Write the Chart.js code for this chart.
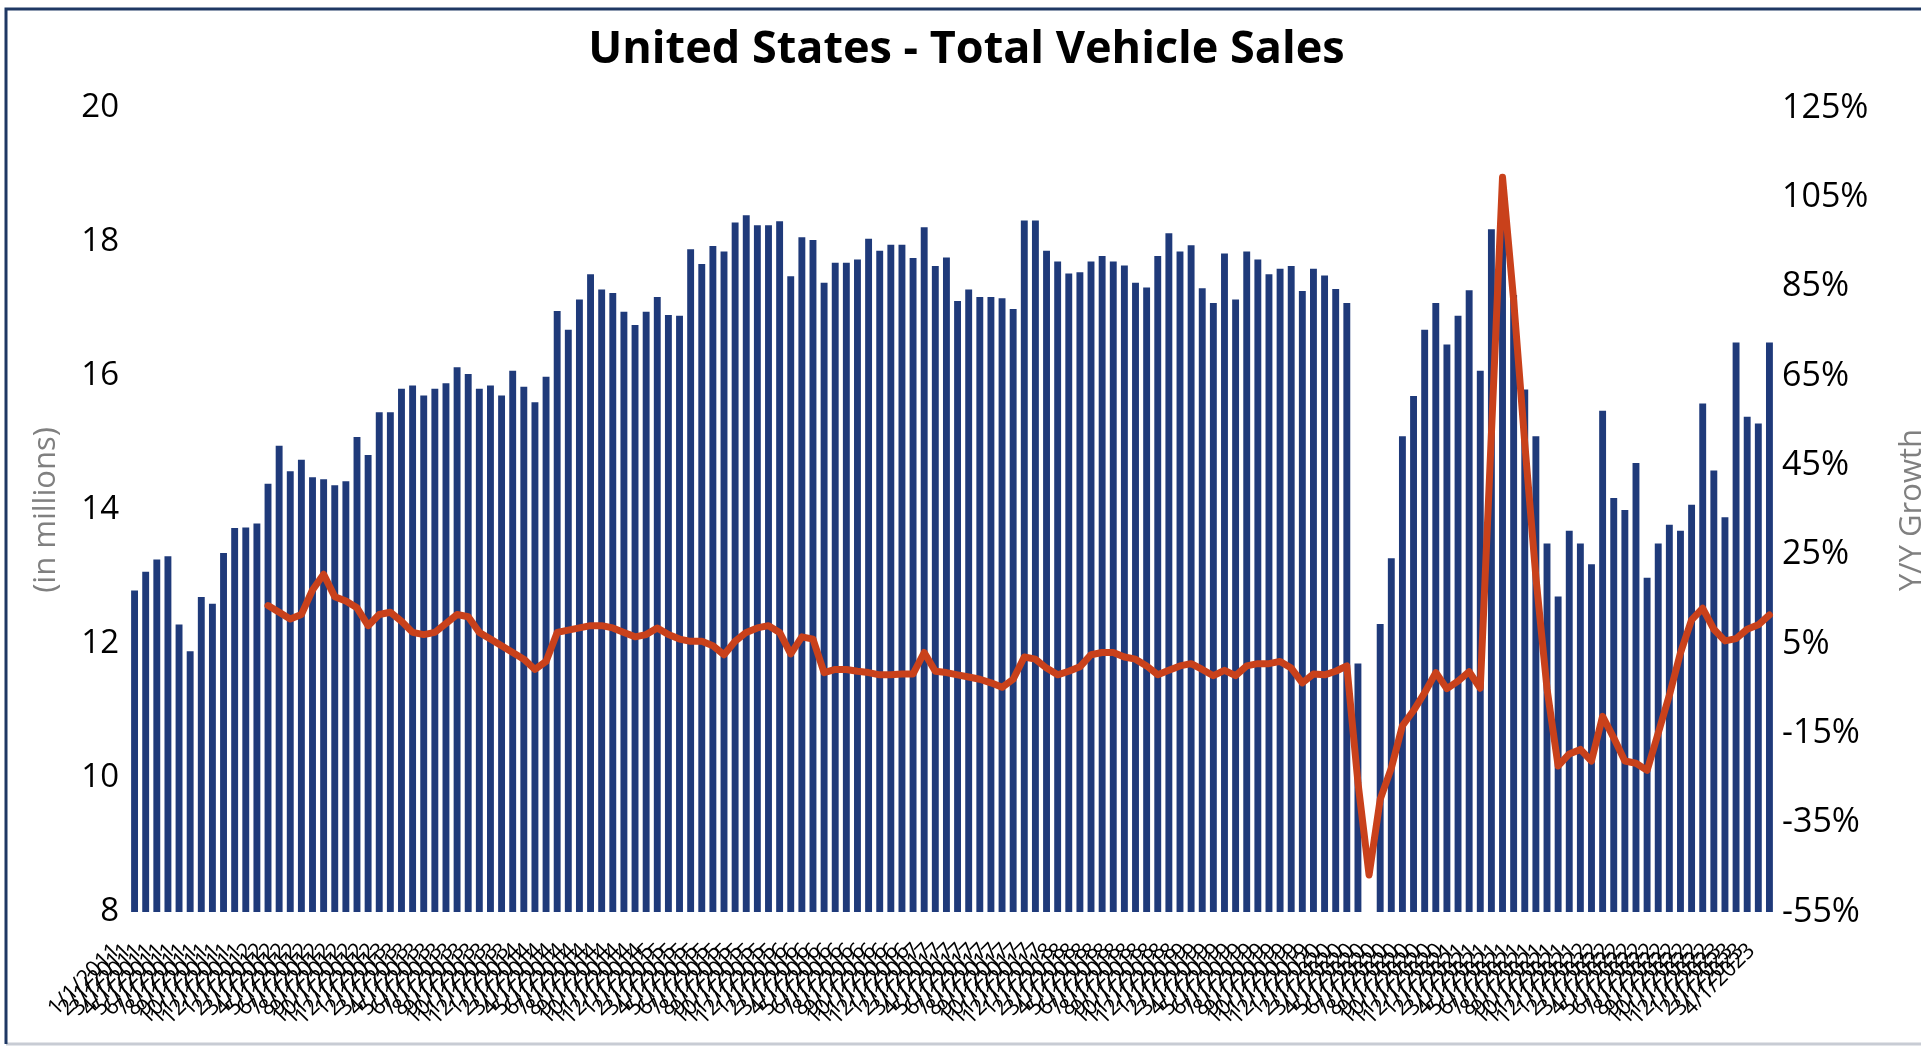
<!DOCTYPE html>
<html>
<head>
<meta charset="utf-8">
<script src="https://cdn.jsdelivr.net/npm/chart.js@4.4.1/dist/chart.umd.min.js"></script>
<style>
html,body{margin:0;padding:0;background:#fff;overflow:hidden}
#wrap{position:relative;width:1921px;height:1048px}
</style>
</head>
<body>
<div id="wrap"><canvas id="c" width="1921" height="1048"></canvas></div>
<script>
// ---- data ----
const chartTitle = 'United States - Total Vehicle Sales';
const leftAxisTitle = '(in millions)';
const rightAxisTitle = 'Y/Y Growth';
const years = ['2011','2012','2013','2014','2015','2016','2017','2018','2019','2020','2021','2022','2023'];
const months = ['1','2','3','4','5','6','7','8','9','10','11','12'];

// Total vehicle sales, millions (SAAR), Jan-2011 .. Apr-2023
const sales2011 = [12.80,13.08,13.26,13.31,12.29,11.89,12.70,12.60,13.36,13.73,13.74,13.80];
const sales2012 = [14.39,14.96,14.58,14.75,14.49,14.46,14.37,14.43,15.09,14.82,15.46,15.46];
const sales2013 = [15.81,15.86,15.71,15.81,15.89,16.13,16.03,15.81,15.86,15.71,16.08,15.84];
const sales2014 = [15.61,15.99,16.97,16.69,17.14,17.52,17.29,17.24,16.96,16.76,16.96,17.18];
const sales2015 = [16.91,16.90,17.89,17.67,17.94,17.86,18.29,18.40,18.25,18.25,18.31,17.49];
const sales2016 = [18.07,18.03,17.39,17.69,17.69,17.74,18.05,17.87,17.96,17.96,17.76,18.22];
const sales2017 = [17.64,17.77,17.12,17.29,17.18,17.18,17.16,17.00,18.32,18.32,17.87,17.71];
const sales2018 = [17.53,17.55,17.71,17.79,17.71,17.65,17.39,17.32,17.79,18.13,17.86,17.95];
const sales2019 = [17.31,17.09,17.83,17.14,17.86,17.74,17.52,17.60,17.64,17.27,17.60,17.50];
const sales2020 = [17.30,17.09,11.71,8.00,12.30,13.28,15.10,15.70,16.69,17.09,16.47,16.90];
const sales2021 = [17.28,16.08,18.19,18.45,17.21,15.80,15.10,13.50,12.71,13.69,13.50,13.19];
const sales2022 = [15.48,14.18,14.00,14.70,12.99,13.50,13.78,13.69,14.08,15.59,14.59,13.89];
const sales2023 = [16.50,15.39,15.29,16.50];

// Year-over-year growth, percent
const yoy2011 = [null,null,null,null,null,null,null,null,null,null,null,null];
const yoy2012 = [13.6,12.1,10.6,11.6,17.1,20.6,15.6,14.6,13.1,9.1,11.6,12.1];
const yoy2013 = [10.1,7.6,7.1,7.6,9.6,11.6,11.1,7.6,6.1,4.6,3.1,1.6];
const yoy2014 = [-0.7,1.1,7.6,8.1,8.6,9.1,9.1,8.6,7.6,6.6,7.1,8.6];
const yoy2015 = [7.1,6.1,5.6,5.6,4.6,2.6,5.6,7.6,8.6,9.1,7.6,2.8];
const yoy2016 = [6.6,6.1,-1.4,-0.7,-0.7,-1.1,-1.4,-1.9,-1.9,-1.7,-1.7,3.1];
const yoy2017 = [-1.1,-1.4,-1.9,-2.4,-2.9,-3.7,-4.7,-2.9,2.1,1.6,-0.4,-1.9];
const yoy2018 = [-1.1,-0.1,2.6,3.1,3.1,2.1,1.6,0.1,-1.9,-0.9,0.1,0.6];
const yoy2019 = [-0.7,-2.1,-0.9,-2.1,0.1,0.6,0.6,1.1,-0.4,-3.7,-1.7,-1.9];
const yoy2020 = [-1.1,0.1,-26.0,-46.7,-29.8,-22.8,-13.3,-9.9,-5.9,-1.4,-5.0,-3.3];
const yoy2021 = [-1.2,-4.9,52.0,109.5,82.0,50.0,20.0,-5.0,-22.3,-19.6,-18.6,-21.2];
const yoy2022 = [-11.2,-16.0,-21.2,-21.7,-23.3,-14.9,-6.5,3.0,10.4,13.0,8.3,5.7];
const yoy2023 = [6.2,8.3,9.3,11.5];

const leftTickValues = [8,10,12,14,16,18,20];
const rightTickValues = [-55,-35,-15,5,25,45,65,85,105,125];

// ---- build ----
const sales = [].concat(sales2011,sales2012,sales2013,sales2014,sales2015,sales2016,sales2017,sales2018,sales2019,sales2020,sales2021,sales2022,sales2023);
const yoy = [].concat(yoy2011,yoy2012,yoy2013,yoy2014,yoy2015,yoy2016,yoy2017,yoy2018,yoy2019,yoy2020,yoy2021,yoy2022,yoy2023);
const labels = [];
for (const y of years) for (const m of months) { if (labels.length < sales.length) labels.push(m + '/1/' + y); }

const FONT = '"Open Sans", "Liberation Sans", sans-serif';

const decor = {
  id: 'decor',
  beforeDraw(chart) {
    const ctx = chart.ctx;
    ctx.save();
    ctx.fillStyle = '#ffffff';
    ctx.fillRect(0, 0, chart.width, chart.height);
    ctx.restore();
  },
  afterDraw(chart) {
    const ctx = chart.ctx;
    ctx.save();
    // frame: navy top/left, light grey bottom
    ctx.lineWidth = 3;
    ctx.strokeStyle = '#c8ccd4';
    ctx.beginPath(); ctx.moveTo(6, chart.height - 4); ctx.lineTo(chart.width, chart.height - 4); ctx.stroke();
    ctx.strokeStyle = '#1f3864';
    ctx.beginPath(); ctx.moveTo(6, chart.height - 4); ctx.lineTo(6, 9); ctx.lineTo(chart.width, 9); ctx.stroke();
    // secondary axis title, reading bottom-to-top
    const s = chart.scales.y1;
    ctx.translate(s.right - 9, (s.top + s.bottom) / 2);
    ctx.rotate(-Math.PI / 2);
    ctx.textAlign = 'center';
    ctx.textBaseline = 'middle';
    ctx.fillStyle = '#808080';
    ctx.font = '31px ' + FONT;
    ctx.fillText(rightAxisTitle, 0, 0);
    ctx.restore();
  }
};

new Chart(document.getElementById('c'), {
  data: {
    labels: labels,
    datasets: [
      {
        type: 'line', label: 'Y/Y Growth', data: yoy, yAxisID: 'y1', order: 0,
        borderColor: '#c9411b', borderWidth: 7, pointRadius: 0, tension: 0, spanGaps: false,
        borderJoinStyle: 'round', borderCapStyle: 'round'
      },
      {
        type: 'bar', label: 'Total Vehicle Sales', data: sales, yAxisID: 'y', order: 1,
        backgroundColor: '#1f3a7a', barPercentage: 0.62, categoryPercentage: 1.0
      }
    ]
  },
  options: {
    responsive: false, animation: false, devicePixelRatio: 1,
    layout: { padding: { top: 0, left: 12, right: 0, bottom: 0 } },
    plugins: {
      legend: { display: false }, tooltip: { enabled: false },
      title: {
        display: true, text: chartTitle, color: '#000',
        font: { family: FONT, size: 45, weight: 'bold' },
        padding: { top: 23, bottom: 31 }
      }
    },
    scales: {
      x: {
        type: 'category', offset: true,
        grid: { display: false, drawTicks: false }, border: { display: false },
        ticks: { autoSkip: false, maxRotation: 45, minRotation: 45, color: '#000',
                 font: { family: FONT, size: 22 }, padding: 26, labelOffset: -18 },
        afterFit(s) { s.height = 136; }
      },
      y: {
        position: 'left', min: 8, max: 20,
        grid: { display: false, drawTicks: false }, border: { display: false },
        afterBuildTicks(s) { s.ticks = leftTickValues.map(v => ({ value: v })); },
        ticks: { color: '#000', font: { family: FONT, size: 33 }, padding: 10 },
        title: { display: true, text: leftAxisTitle, color: '#808080',
                 font: { family: FONT, size: 31 }, padding: { top: 16, bottom: 0 } },
        afterFit(s) { s.width = 117; }
      },
      y1: {
        position: 'right', min: -55, max: 125,
        grid: { display: false, drawTicks: false }, border: { display: false },
        afterBuildTicks(s) { s.ticks = rightTickValues.map(v => ({ value: v })); },
        ticks: { color: '#000', font: { family: FONT, size: 34 }, padding: 7,
                 callback: v => v + '%' },
        afterFit(s) { s.width = 146; }
      }
    }
  },
  plugins: [decor]
});
</script>
</body>
</html>
